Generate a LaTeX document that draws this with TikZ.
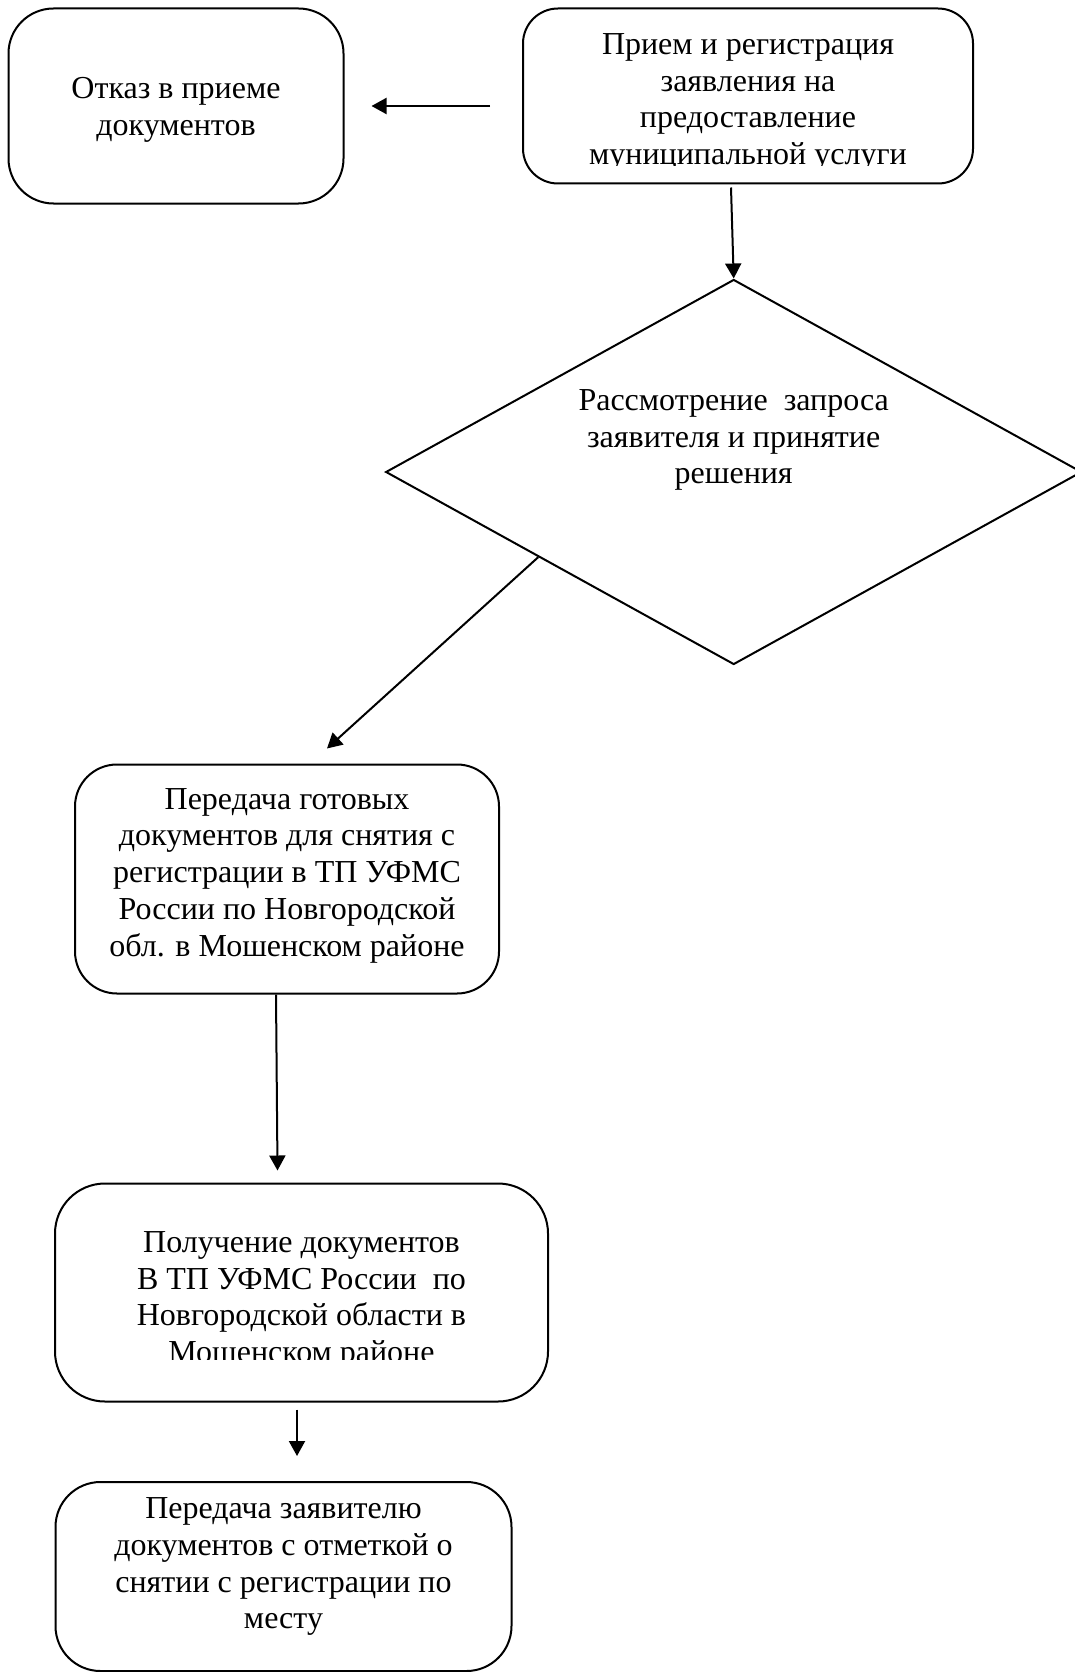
\documentclass[tikz,border=0pt]{standalone}
\usepackage{fontspec}
\setmainfont{Liberation Serif}
\usetikzlibrary{shapes.geometric,arrows.meta,calc}
\begin{document}
\begin{tikzpicture}[x=1pt,y=-1pt,
  box/.style={draw, line width=2pt, rounded corners=#1, inner sep=0pt},
  txt/.style={align=center, inner sep=0pt, font=\fontsize{32}{36.8}\selectfont},
  arr/.style={line width=2pt, -{Triangle[length=15pt,width=16pt]}}]
\useasboundingbox (0,0) rectangle (1075,1672);
% boxes
\node[box=45, minimum width=335, minimum height=195] (refuse) at (176,106) {};
\node[txt] (refuseT) at (176,110) {Отказ в приеме\\документов};
\node[box=35, minimum width=450, minimum height=175] (recv) at (748,96) {};
\begin{scope}
  \clip (523,0) rectangle (973,166);
  \node[txt] (recvT) at (748,102.4) {Прием и регистрация\\заявления на\\предоставление\\муниципальной услуги};
\end{scope}
\node[draw, line width=2pt, shape=diamond, minimum width=696, minimum height=385, inner sep=0pt] (dec) at (733.7,472) {};
\node[txt] (decT) at (733.7,440) {Рассмотрение\ \ запроса\\заявителя и принятие\\решения};
\node[box=42, minimum width=424, minimum height=229] (prep) at (287,879) {};
\node[txt] (prepT) at (287,875.6) {Передача готовых\\документов для снятия с\\регистрации в ТП УФМС\\России по Новгородской\\обл. в Мошенском районе};
\node[box=50, minimum width=493, minimum height=218] (recvdoc) at (301.5,1292.5) {};
\begin{scope}
  \clip (55,1180) rectangle (548,1359);
  \node[txt] (recvdocT) at (301.5,1300.5) {Получение документов\\В ТП УФМС России\ \ по\\Новгородской области в\\Мошенском районе};
\end{scope}
\node[box=45, minimum width=456, minimum height=189] (give) at (283.5,1576.5) {};
\node[txt] (giveT) at (283.5,1566.7) {Передача заявителю\\документов с отметкой о\\снятии с регистрации по\\месту};
% connectors
\draw[arr, shorten <=32pt, shorten >=27pt] (recv.west |- refuse.east) -- (refuse.east);
\coordinate (r1) at ($(recv.south)+(-17,3)$);
\draw[arr] (r1) -- (dec.north);
\coordinate (d1) at ($(dec.west)!0.44!(dec.south)$);
\coordinate (p1) at ($(prep.north)+(40,-15)$);
\draw[arr] (d1) -- (p1);
\coordinate (c1) at ($(prep.south)+(-11,0)$);
\coordinate (c2) at ($(recvdoc.north)+(-24,-12)$);
\draw[arr] (c1) -- (c2);
\coordinate (e1) at ($(recvdoc.south)+(-4.5,7)$);
\coordinate (e2) at ($(give.north)+(13.5,-25)$);
\draw[arr] (e1) -- (e2);
\end{tikzpicture}
\end{document}
